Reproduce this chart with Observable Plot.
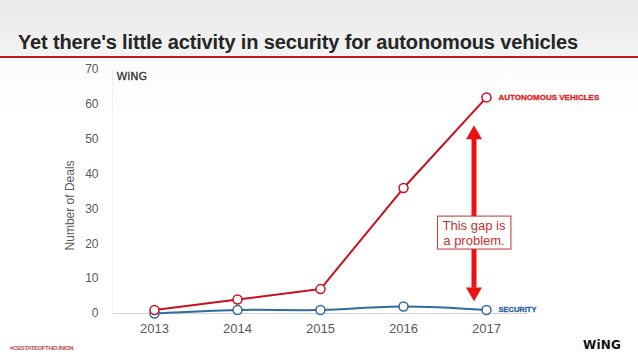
<!DOCTYPE html>
<html>
<head>
<meta charset="utf-8">
<script src="https://cdn.jsdelivr.net/npm/d3@7"></script>
<script src="https://cdn.jsdelivr.net/npm/@observablehq/plot@0.6"></script>
<style>
  html, body { margin: 0; padding: 0; }
  #slide {
    position: relative; width: 638px; height: 359px; overflow: hidden;
    background: linear-gradient(#e9e9e9 0px, #f3f3f3 55px, #fbfbfb 60px, #ffffff 120px);
    font-family: "Liberation Sans", Arial, sans-serif;
  }
  #title {
    position: absolute; left: 18px; top: 31px; white-space: nowrap;
    font-size: 20px; font-weight: bold; color: #262626; letter-spacing: -0.15px;
  }
  #rule { position: absolute; left: 0; top: 56px; width: 638px; height: 2px; background: #c0181f; }
  #chart { position: absolute; left: 0; top: 60px; }
  #hashtag {
    position: absolute; left: 10px; top: 345px; font-size: 6px; font-weight: bold;
    color: #c0504d; letter-spacing: -0.4px; font-family: "Liberation Sans Narrow", "Liberation Sans", sans-serif;
  }
  #logo {
    position: absolute; left: 583px; top: 338px; font-size: 12px; font-weight: bold;
    color: #111; font-family: "DejaVu Sans", sans-serif; letter-spacing: 0.2px;
  }
</style>
</head>
<body>
<div id="slide">
  <div id="title">Yet there's little activity in security for autonomous vehicles</div>
  <div id="rule"></div>
  <div id="chart"></div>
  <div id="hashtag">#CBSTATEOFTHEUNION</div>
  <div id="logo">WiNG</div>
</div>
<script>
const years = [2013, 2014, 2015, 2016, 2017];
const autonomous = [1, 4, 7, 36, 62];
const security = [0, 1, 1, 2, 1];
const yTicks = [0, 10, 20, 30, 40, 50, 60, 70];
const seriesNames = ["AUTONOMOUS VEHICLES", "SECURITY"];
const gapTop = 54;      // arrow tip (top), in deals
const gapBottom = 3.5;  // arrow tip (bottom), in deals
const noteText = "This gap is\na problem.";
const noteY = 23.3;
const axisLabelText = "Number of Deals";
const axisLabelY = 31;
const watermark = "WiNG";

const auto = years.map((y, i) => ({year: y, value: autonomous[i]}));
const sec = years.map((y, i) => ({year: y, value: security[i]}));
const lastYear = years[years.length - 1];

const RED = "#c8101e";
const BLUE = "#2f6b9c";
const ARROW = "#ee1111";

const triDown = {
  draw(context, size) {
    const y = -Math.sqrt(size / (Math.sqrt(3) * 3));
    context.moveTo(0, -y * 2);
    context.lineTo(-Math.sqrt(3) * y, y);
    context.lineTo(Math.sqrt(3) * y, y);
    context.closePath();
  }
};
const triR = 5.94;
const triOff = 2 * Math.sqrt((triR * triR * Math.PI) / (3 * Math.sqrt(3)));

const plot = Plot.plot({
  width: 638,
  height: 299,
  marginTop: 9,
  marginBottom: 46,
  marginLeft: 112,
  marginRight: 110,
  style: {background: "transparent", fontFamily: "Liberation Sans, Arial, sans-serif"},
  x: {type: "point", domain: years, padding: 0.5},
  y: {domain: [0, 70]},
  marks: [
    Plot.frame({anchor: "left", stroke: "#f0f0f0"}),
    Plot.ruleY([0], {stroke: "#d4d4d4", strokeWidth: 1}),
    Plot.axisY({ticks: yTicks, tickSize: 0, tickPadding: 14, label: null, fontSize: 12, color: "#595959"}),
    Plot.axisX({tickSize: 0, tickPadding: 10, label: null, fontSize: 13, color: "#595959", tickFormat: d => String(d)}),
    Plot.text([axisLabelText], {frameAnchor: "left", textAnchor: "middle", y: () => axisLabelY, dx: -42, rotate: -90, fontSize: 12, fill: "#595959"}),
    Plot.text([watermark], {frameAnchor: "top-left", dx: 4, dy: 3, fontSize: 11, fill: "#333", fontFamily: "DejaVu Sans, sans-serif", textAnchor: "start", stroke: "#333", strokeWidth: 0.3}),
    Plot.line(sec, {x: "year", y: "value", stroke: BLUE, strokeWidth: 2, curve: "catmull-rom"}),
    Plot.line(auto, {x: "year", y: "value", stroke: RED, strokeWidth: 2}),
    Plot.dot(sec, {x: "year", y: "value", r: 4.5, stroke: BLUE, strokeWidth: 1.5, fill: "white"}),
    Plot.dot(auto, {x: "year", y: "value", r: 4.5, stroke: RED, strokeWidth: 1.5, fill: "white"}),
    Plot.text([{year: lastYear, value: autonomous[4], name: seriesNames[0]}], {x: "year", y: "value", text: "name", dx: 12, textAnchor: "start", fill: "#e31b1b", stroke: "#e31b1b", strokeWidth: 0.3, fontSize: 8, fontWeight: "bold", fontFamily: "Liberation Sans Narrow, Liberation Sans, sans-serif", letterSpacing: "-0.35px"}),
    Plot.text([{year: lastYear, value: security[4], name: seriesNames[1]}], {x: "year", y: "value", text: "name", dx: 12, textAnchor: "start", fill: "#1f5fa8", stroke: "#1f5fa8", strokeWidth: 0.3, fontSize: 7.5, fontWeight: "bold", fontFamily: "Liberation Sans Narrow, Liberation Sans, sans-serif", letterSpacing: "-0.4px"}),
    // gap arrow
    Plot.ruleX([lastYear], {y1: gapTop, y2: gapBottom, dx: -12.5, stroke: ARROW, strokeWidth: 5, insetTop: 13, insetBottom: 13}),
    Plot.dot([{year: lastYear, value: gapTop}], {x: "year", y: "value", dx: -12.5, dy: triOff, symbol: "triangle", r: triR, fill: ARROW, stroke: "none"}),
    Plot.dot([{year: lastYear, value: gapBottom}], {x: "year", y: "value", dx: -12.5, dy: -triOff, symbol: triDown, r: triR, fill: ARROW, stroke: "none"}),
    Plot.text([{year: lastYear, value: noteY, t: noteText}], {x: "year", y: "value", text: "t", dx: -12.5, fill: "#c43131", fontSize: 13, lineHeight: 1.15, className: "gapnote"})
  ]
});
document.getElementById("chart").appendChild(plot);

// white box behind the note
const note = d3.select(plot).select("g.gapnote");
if (!note.empty()) {
  const bb = note.node().getBBox();
  const padX = 5, padY = 1.5;
  note.insert("rect", ":first-child")
    .attr("x", bb.x - padX).attr("y", bb.y - padY)
    .attr("width", bb.width + 2 * padX).attr("height", bb.height + 2 * padY)
    .attr("fill", "white").attr("stroke", "#c43131").attr("stroke-width", 1);
}
</script>
</body>
</html>
